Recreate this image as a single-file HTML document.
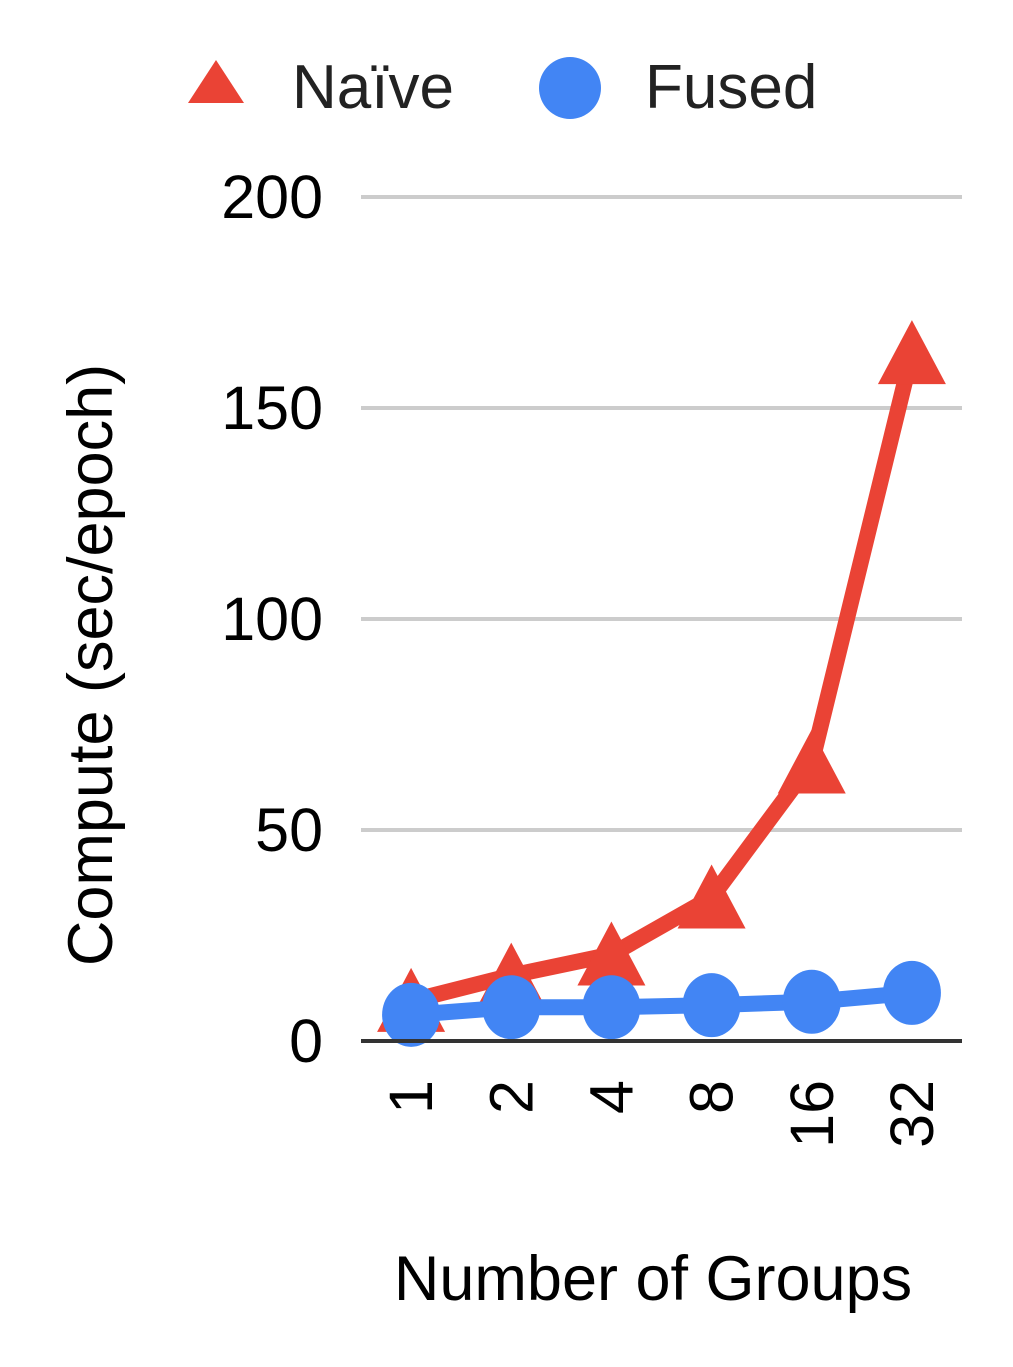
<!DOCTYPE html>
<html><head><meta charset="utf-8"><style>
body{margin:0;background:#fff}
svg{display:block;font-family:"Liberation Sans",Arial,sans-serif}
</style></head><body>
<svg id="chart" width="1013" height="1367">
<g id="grid"></g><g id="series"></g><g id="ticks"></g>
<g>
<polygon points="216,60 244,103 188,103" fill="#ea4335"/>
<text x="292" y="108" font-size="62" fill="#222">Naïve</text>
<ellipse cx="570" cy="88" rx="31" ry="31" fill="#4285f4"/>
<text x="645" y="108" font-size="62" fill="#222">Fused</text>
</g>
<text transform="translate(112,665) rotate(-90)" text-anchor="middle" font-size="63" fill="#000">Compute (sec/epoch)</text>
<text x="653" y="1300" text-anchor="middle" font-size="63" fill="#000">Number of Groups</text>
</svg>
<script>
const categories=["1","2","4","8","16","32"];
const naive=[9.5,15.5,20.5,34,66,163];
const fused=[6.2,8,8,8.5,9.3,11.4];
const yTicks=[0,50,100,150,200];
const NS="http://www.w3.org/2000/svg";
const x0=361,x1=962,yBase=1041,yTop=197,yMax=200;
const xs=i=>x0+(x1-x0)/categories.length*(i+0.5);
const ys=v=>yBase-(yBase-yTop)*v/yMax;
function mk(t,a,p){const e=document.createElementNS(NS,t);for(const k in a)e.setAttribute(k,a[k]);p.appendChild(e);return e;}
const grid=document.getElementById('grid'),ser=document.getElementById('series'),tk=document.getElementById('ticks');
yTicks.forEach(v=>{
 if(v>0){const l=mk('line',{x1:x0,x2:x1,y1:ys(v),y2:ys(v),stroke:'#ccc','stroke-width':4},grid);
 
 }
 const t=mk('text',{x:323,y:ys(v)+21,'text-anchor':'end','font-size':61,fill:'#000'},tk);t.textContent=v;
 
 
});
const ax=mk('line',{x1:x0,x2:x1,y1:yBase,y2:yBase,stroke:'#333','stroke-width':4},tk);


categories.forEach((c,i)=>{
 const t=mk('text',{transform:`translate(${xs(i)+21},1080) rotate(-90)`,'text-anchor':'end','font-size':61,fill:'#000'},tk);t.textContent=c;
 
 
});
const nl=mk('polyline',{points:naive.map((v,i)=>xs(i)+','+ys(v)).join(' '),fill:'none',stroke:'#ea4335','stroke-width':16,'stroke-linejoin':'round'},ser);


naive.forEach((v,i)=>{const x=xs(i),y=ys(v);
 const p=mk('polygon',{points:`${x},${y-33} ${x+34},${y+31} ${x-34},${y+31}`,fill:'#ea4335'},ser);
 
 });
const fl=mk('polyline',{points:fused.map((v,i)=>xs(i)+','+ys(v)).join(' '),fill:'none',stroke:'#4285f4','stroke-width':16,'stroke-linejoin':'round'},ser);


fused.forEach((v,i)=>{
 const e=mk('ellipse',{cx:xs(i),cy:ys(v),rx:29,ry:32,fill:'#4285f4'},ser);
 
 });
</script>
</body></html>
